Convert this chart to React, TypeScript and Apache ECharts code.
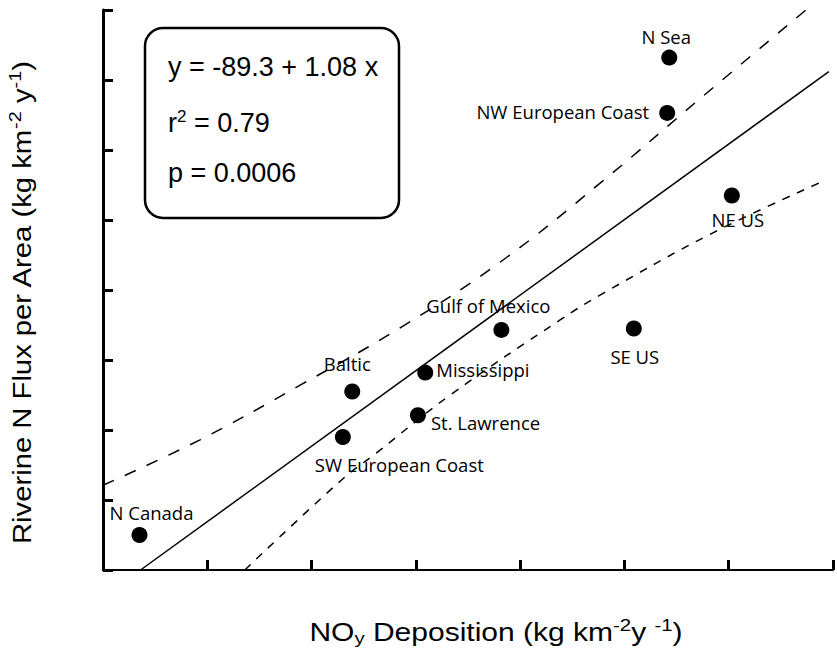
import React, { useEffect, useRef } from "react";
import * as echarts from "echarts";

// ---- data ----
const regions = [
  "N Canada",
  "SW European Coast",
  "Baltic",
  "St. Lawrence",
  "Mississippi",
  "Gulf of Mexico",
  "SE US",
  "NE US",
  "NW European Coast",
  "N Sea",
];
const noyDeposition = [35, 230, 239, 302, 309, 382, 509, 603, 541, 543];
const riverineNFlux = [0, 140, 205, 171, 232, 293, 295, 485, 603, 682];

// regression line y = -89.3 + 1.08x (end points as drawn)
const fitX = [36, 696];
const fitY = [-50, 662];

// confidence band curves
const upperBandX = [0, 93, 189, 285, 381, 477, 573, 674];
const upperBandY = [71, 136, 214, 296, 390, 503, 624, 750];
const lowerBandX = [136, 229, 262, 333, 438, 477, 584, 690];
const lowerBandY = [-50, 79, 117, 200, 307, 343, 431, 505];

const xTicks = [0, 100, 200, 300, 400, 500, 600, 700];
const yTicks = [-50, 50, 150, 250, 350, 450, 550, 650, 750];

const equationText = "y = -89.3 + 1.08 x";
const r2Value = "0.79";
const pValue = "0.0006";

// ---- label placement (layout only) ----
const labelPlacement: Record<string, { align: string; dx: number; dy: number }> = {
  "N Canada": { align: "center", dx: 12, dy: -23 },
  "SW European Coast": { align: "left", dx: -28, dy: 27 },
  Baltic: { align: "center", dx: -5, dy: -28 },
  "St. Lawrence": { align: "left", dx: 13, dy: 7 },
  Mississippi: { align: "left", dx: 11, dy: -3 },
  "Gulf of Mexico": { align: "center", dx: -13, dy: -24 },
  "SE US": { align: "center", dx: 1, dy: 28 },
  "NE US": { align: "center", dx: 6, dy: 24 },
  "NW European Coast": { align: "right", dx: -18, dy: -1 },
  "N Sea": { align: "center", dx: -3, dy: -21 },
};

const pairs = (xs: number[], ys: number[]) => xs.map((x, i) => [x, ys[i]]);

export default function App() {
  const ref = useRef<HTMLDivElement>(null);
  useEffect(() => {
    if (!ref.current) return;
    const chart = echarts.init(ref.current, undefined, { renderer: "svg" });
    const labelFont = "'Open Sans', sans-serif";
    const titleFont = "'Liberation Sans', Arial, sans-serif";
    chart.setOption({
      animation: false,
      backgroundColor: "#fff",
      grid: { left: 103, right: 4, top: 10, bottom: 83 },
      xAxis: {
        type: "value",
        min: xTicks[0],
        max: xTicks[xTicks.length - 1],
        interval: 100,
        axisLine: { show: true, onZero: false, lineStyle: { color: "#000", width: 2 } },
        axisTick: { show: true, inside: true, length: 10, lineStyle: { color: "#000", width: 3 } },
        axisLabel: { show: false },
        splitLine: { show: false },
      },
      yAxis: {
        type: "value",
        min: yTicks[0],
        max: yTicks[yTicks.length - 1],
        axisLine: { show: true, onZero: false, lineStyle: { color: "#000", width: 3 } },
        axisTick: {
          show: true,
          inside: true,
          length: 10,
          customValues: yTicks,
          lineStyle: { color: "#000", width: 3 },
        },
        axisLabel: { show: false },
        splitLine: { show: false },
      },
      series: [
        {
          type: "line",
          data: pairs(fitX, fitY),
          symbol: "none",
          lineStyle: { color: "#000", width: 1.5 },
          z: 2,
        },
        {
          type: "line",
          data: pairs(upperBandX, upperBandY),
          symbol: "none",
          smooth: 0.4,
          lineStyle: { color: "#000", width: 1.5, type: [12, 12] },
          z: 2,
        },
        {
          type: "line",
          data: pairs(lowerBandX, lowerBandY),
          symbol: "none",
          smooth: 0.4,
          lineStyle: { color: "#000", width: 1.5, type: [8, 8] },
          z: 2,
        },
        {
          type: "scatter",
          symbol: "circle",
          symbolSize: 16,
          itemStyle: { color: "#000", opacity: 1 },
          z: 3,
          data: regions.map((name, i) => {
            const p = labelPlacement[name];
            return {
              name,
              value: [noyDeposition[i], riverineNFlux[i]],
              label: {
                show: true,
                position: "inside",
                formatter: name,
                align: p.align,
                verticalAlign: "middle",
                offset: [p.dx, p.dy],
                color: "#000",
                opacity: 1,
                textBorderWidth: 0,
                fontFamily: labelFont,
                fontSize: 18.5,
              },
            };
          }),
        },
      ],
      graphic: [
        {
          type: "rect",
          shape: { x: 145, y: 28, width: 254, height: 190, r: 18 },
          style: { fill: "#fff", stroke: "#000", lineWidth: 2.5 },
          z: 10,
        },
        {
          type: "text",
          x: 168,
          y: 67,
          z: 11,
          style: {
            text: equationText,
            font: `27px ${titleFont}`,
            fill: "#000",
            verticalAlign: "middle",
          },
        },
        {
          type: "text",
          x: 168,
          y: 123,
          z: 11,
          style: {
            text: `{a|r}{s|2}{a| = ${r2Value}}`,
            verticalAlign: "middle",
            rich: {
              a: { fontSize: 27, fontFamily: titleFont, color: "#000", lineHeight: 30 },
              s: { fontSize: 17, fontFamily: titleFont, color: "#000", lineHeight: 30, verticalAlign: "top" },
            },
          },
        },
        {
          type: "text",
          x: 168,
          y: 173,
          z: 11,
          style: {
            text: `p = ${pValue}`,
            font: `27px ${titleFont}`,
            fill: "#000",
            verticalAlign: "middle",
          },
        },
        {
          type: "text",
          x: 496,
          y: 632,
          scaleX: 1.2,
          z: 11,
          style: {
            text: "{a|NO}{b|y}{a| Deposition (kg km}{s|-2}{a|y }{s|-1}{a|)}",
            align: "center",
            verticalAlign: "middle",
            rich: {
              a: { fontSize: 25, fontFamily: titleFont, color: "#000", lineHeight: 30 },
              b: { fontSize: 17, fontFamily: titleFont, color: "#000", lineHeight: 30, verticalAlign: "bottom" },
              s: { fontSize: 17, fontFamily: titleFont, color: "#000", lineHeight: 30, verticalAlign: "top" },
            },
          },
        },
        {
          type: "text",
          x: 22,
          y: 303,
          rotation: Math.PI / 2,
          scaleX: 1.17,
          z: 11,
          style: {
            text: "{a|Riverine N Flux per Area (kg km}{s|-2}{a| y}{s|-1}{a|)}",
            align: "center",
            verticalAlign: "middle",
            rich: {
              a: { fontSize: 25, fontFamily: titleFont, color: "#000", lineHeight: 30 },
              s: { fontSize: 17, fontFamily: titleFont, color: "#000", lineHeight: 30, verticalAlign: "top" },
            },
          },
        },
      ],
    });
    return () => chart.dispose();
  }, []);
  return (
    <div
      ref={ref}
      style={{ position: "fixed", left: 0, top: 0, width: 837, height: 653, background: "#fff" }}
    />
  );
}
